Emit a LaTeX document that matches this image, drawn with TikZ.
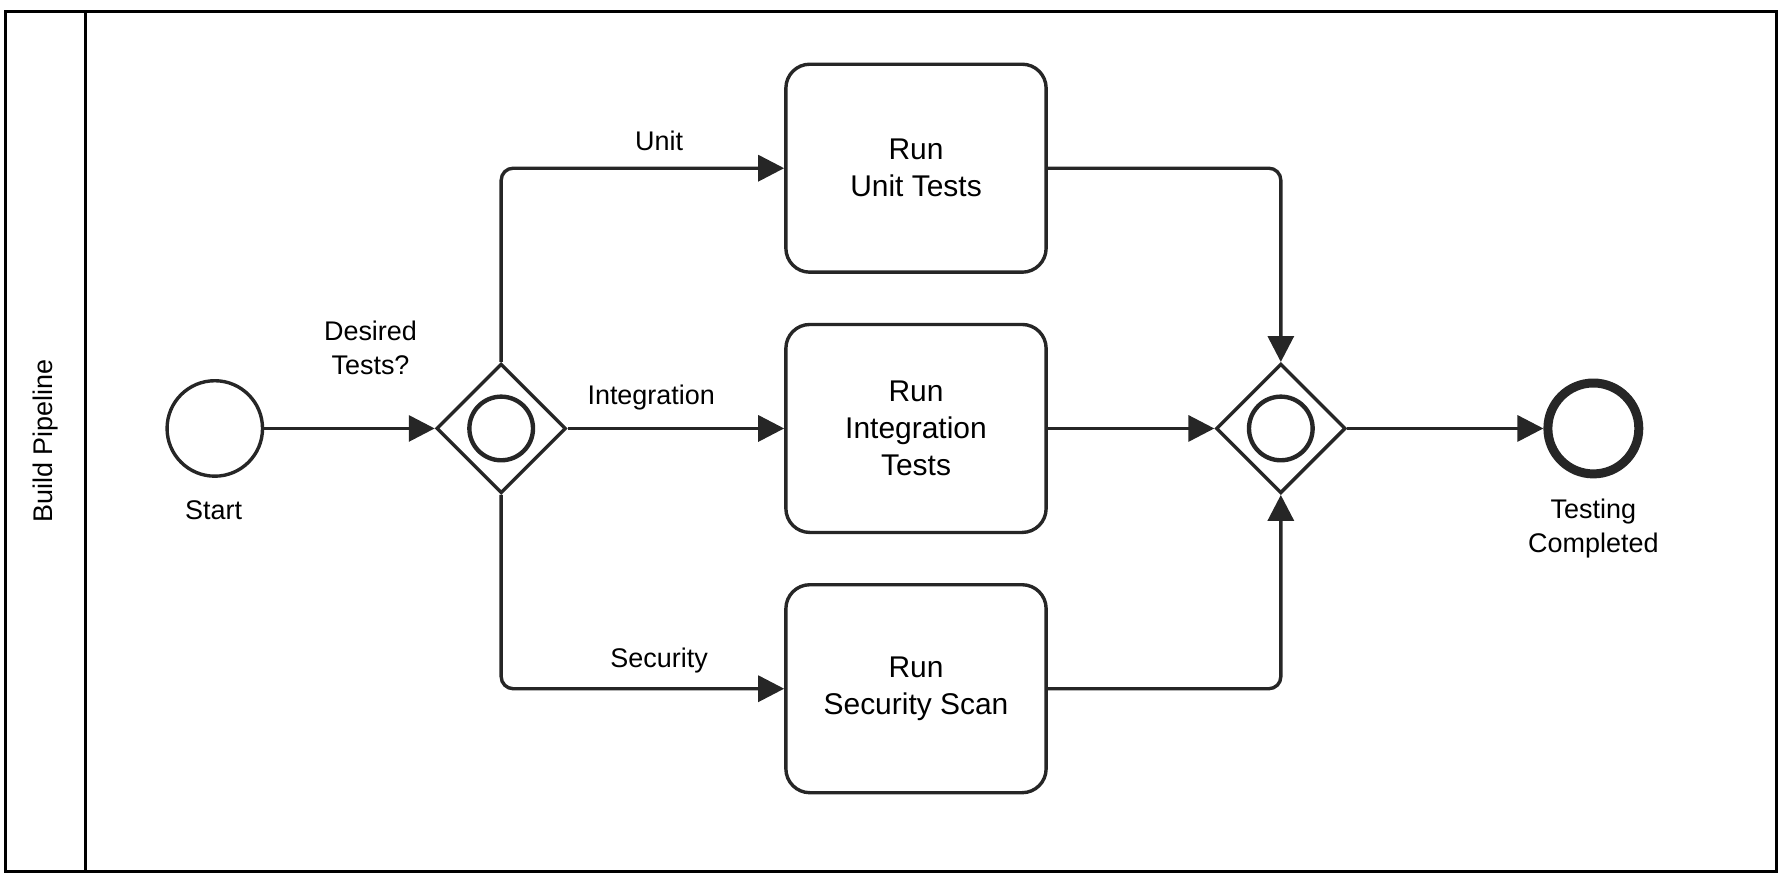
\documentclass[tikz,border=0pt]{standalone}
\usepackage{fontspec}
\setmainfont{Liberation Sans}
\usetikzlibrary{shapes.geometric,arrows.meta}
\begin{document}
\begin{tikzpicture}[x=0.02cm,y=-0.02cm,
  line/.style={line width=1.7pt,draw=black!85},
  flow/.style={line, rounded corners=6pt,-{Triangle[length=13pt,width=13pt]}},
  task/.style={line, rounded corners=12pt, minimum width=229*0.02cm, minimum height=183*0.02cm, align=center, font=\fontsize{15}{18.5}\selectfont},
  gw/.style={line, diamond, minimum width=114*0.02cm, minimum height=114*0.02cm, inner sep=0pt},
  inner/.style={line, circle, minimum size=56*0.02cm, inner sep=0pt, line width=2.2pt},
  lbl/.style={align=center, font=\fontsize{13.5}{17}\selectfont}]
\useasboundingbox (0,0) rectangle (1568,774);
\draw[line width=1.5pt] (5,10) rectangle (1563,767);
\draw[line width=1.5pt] (75,10) -- (75,767);
\node[lbl, rotate=90] (lane) at (40,388) {Build Pipeline};
\node[line, circle, minimum size=84*0.02cm, inner sep=0pt] (start) at (189,377) {};
\node[lbl] (startl) at (188,449) {Start};
\node[gw] (g1) at (441,377) {};
\node[inner] (g1i) at (441,377) {};
\node[lbl] (dt) at (326,306) {Desired\\Tests?};
\node[task] (t1) at (806,148) {Run\\Unit Tests};
\node[task] (t2) at (806,377) {Run\\Integration\\Tests};
\node[task] (t3) at (806,606) {Run\\Security Scan};
\node[gw] (g2) at (1127,377) {};
\node[inner] (g2i) at (1127,377) {};
\node[circle, draw=black!85, line width=4.5pt, minimum size=80*0.02cm, inner sep=0pt] (end) at (1402,377) {};
\node[lbl] (endl) at (1402,465) {Testing\\Completed};
\draw[flow] (start) -- (g1);
\draw[flow] (g1.north) |- (t1.west);
\draw[flow] (g1.east) -- (t2.west);
\draw[flow] (g1.south) |- (t3.west);
\node[lbl] (lu) at (580,124) {Unit};
\node[lbl] (li) at (573,350) {Integration};
\node[lbl] (ls) at (580,581) {Security};
\draw[flow] (t1.east) -| (g2.north);
\draw[flow] (t2.east) -- (g2.west);
\draw[flow] (t3.east) -| (g2.south);
\draw[flow] (g2.east) -- (end.west);
\end{tikzpicture}
\end{document}
